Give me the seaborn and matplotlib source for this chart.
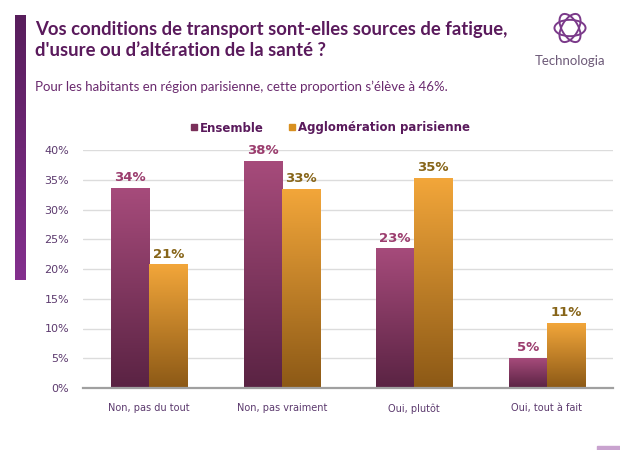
import matplotlib
matplotlib.use("Agg")
import matplotlib.pyplot as plt
import numpy as np
import pandas as pd
import seaborn as sns
from matplotlib.colors import to_rgba
from matplotlib.lines import Line2D
from matplotlib.patches import Ellipse, Rectangle

# Data
categories = ["Non, pas du tout", "Non, pas vraiment", "Oui, plutôt", "Oui, tout à fait"]
series = ["Ensemble", "Agglomération parisienne"]
ensemble = [33.6, 38.1, 23.4, 5.0]
agglo = [20.7, 33.4, 35.2, 10.9]
yticks = [0, 5, 10, 15, 20, 25, 30, 35, 40]

title = "Vos conditions de transport sont-elles sources de fatigue,\nd'usure ou d\u2019altération de la santé ?"
subtitle = "Pour les habitants en région parisienne, cette proportion s\u2019élève à 46%."

PURPLE_TOP, PURPLE_BOT = "#a64b7b", "#5a2343"
ORANGE_TOP, ORANGE_BOT = "#f2a63a", "#8c5916"
PURPLE_TXT = "#5a1a5c"
TICK_TXT = "#5c3a6e"

df = pd.DataFrame({
    "categorie": categories * 2,
    "serie": [series[0]] * 4 + [series[1]] * 4,
    "valeur": ensemble + agglo,
})

sns.set_theme(style="white")
plt.rcParams["font.family"] = ["DejaVu Sans"]

fig = plt.figure(figsize=(6.2, 4.5), dpi=100)
ax = fig.add_axes([83 / 620, 1 - 388 / 450, 530 / 620, 238 / 450])

sns.barplot(data=df, x="categorie", y="valeur", hue="serie",
            palette=["#7a2f5a", "#d89020"], width=0.575, saturation=1,
            legend=False, ax=ax, order=categories, hue_order=series)


def gradient(bottom, top):
    b = np.array(to_rgba(bottom))
    t = np.array(to_rgba(top))
    s = np.linspace(0, 1, 128)[:, None]
    return (b + (t - b) * s)[:, None, :]


grads = [gradient(PURPLE_BOT, PURPLE_TOP), gradient(ORANGE_BOT, ORANGE_TOP)]
label_colors = ["#9b3d6e", "#876519"]
bars = list(ax.patches)
for i, bar in enumerate(bars):
    hue_idx = i // len(categories)
    x0, w, h = bar.get_x(), bar.get_width(), bar.get_height()
    ax.imshow(grads[hue_idx], extent=[x0, x0 + w, 0, h], origin="lower",
              aspect="auto", zorder=bar.get_zorder() + 0.1, interpolation="bilinear")
    ax.annotate(f"{round(h)}%", (x0 + w / 2, h), xytext=(0, 3),
                textcoords="offset points", ha="center", va="bottom",
                fontsize=9.5, fontweight="bold", color=label_colors[hue_idx],
                annotation_clip=False)

ax.set_xlim(-0.5, 3.5)
ax.set_ylim(0, 40)
ax.set_yticks(yticks)
ax.set_yticklabels([f"{t}%" for t in yticks])
ax.set_xlabel("")
ax.set_ylabel("")
ax.yaxis.grid(True, color="#dcdcdc", linewidth=1)
ax.set_axisbelow(True)
for side in ["top", "right", "left"]:
    ax.spines[side].set_visible(False)
ax.spines["bottom"].set_color("#a0a0a0")
ax.spines["bottom"].set_linewidth(1.6)
ax.tick_params(axis="y", length=0, pad=10, labelsize=8, labelcolor=TICK_TXT)
ax.tick_params(axis="x", length=0, pad=11, labelsize=7, labelcolor=TICK_TXT)

# legend
handles = [Line2D([], [], marker="s", linestyle="", markersize=5, color="#7a2f5a"),
           Line2D([], [], marker="s", linestyle="", markersize=5, color="#d89020")]
leg = fig.legend(handles, series, loc="center", bbox_to_anchor=(330 / 620, 1 - 128 / 450),
                 ncol=2, frameon=False, handletextpad=0.2, columnspacing=2.0,
                 handlelength=0.7, prop={"weight": "bold", "size": 8.5})
for t in leg.get_texts():
    t.set_color(PURPLE_TXT)

# header
fig.text(35 / 620, 1 - 21 / 450, title, ha="left", va="top", fontsize=13.3,
         fontweight="bold", color=PURPLE_TXT, family=["Lato", "DejaVu Sans"], linespacing=1.25)
fig.text(35 / 620, 1 - 87 / 450, subtitle, ha="left", va="center", fontsize=9.5,
         color="#6a2a6e", family=["Lato", "DejaVu Sans"])

# left decorative band
band = fig.add_axes([15 / 620, 1 - 280 / 450, 11 / 620, 265 / 450])
band.imshow(gradient("#84308e", "#581e5c"), aspect="auto", origin="lower",
            extent=[0, 1, 0, 1])
band.axis("off")

# logo
logo = fig.add_axes([552 / 620, 1 - 46 / 450, 36 / 620, 36 / 450])
for ang in [0, 60, 120]:
    logo.add_patch(Ellipse((0, 0), 1.9, 1.0, angle=ang, fill=False,
                           edgecolor="#7b3a8a", linewidth=1.4))
logo.set_xlim(-1.1, 1.1)
logo.set_ylim(-1.1, 1.1)
logo.set_aspect("equal")
logo.axis("off")
fig.text(570 / 620, 1 - 61 / 450, "Technologia", ha="center", va="center",
         fontsize=9.5, color="#6d5a78", family=["Lato", "DejaVu Sans"])

fig.patches.append(Rectangle((597 / 620, 0), 23 / 620, 4 / 450,
                             transform=fig.transFigure, color="#c9a3cf"))

fig.savefig("out.png", dpi=100)
